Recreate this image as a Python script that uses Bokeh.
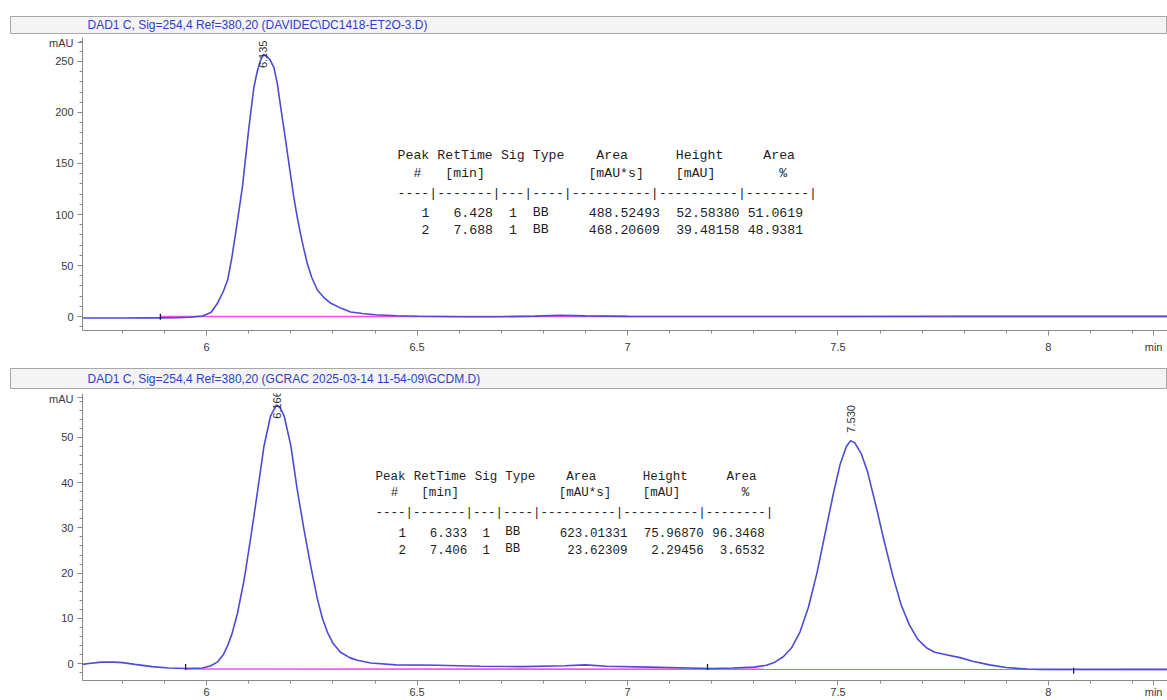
import numpy as np
from bokeh.plotting import figure
from bokeh.models import Range1d, FixedTicker, Label
from bokeh.layouts import column
from bokeh.embed import file_html
from bokeh.resources import INLINE

# ---------------- data ----------------
header_top = "DAD1 C, Sig=254,4 Ref=380,20 (DAVIDEC\\DC1418-ET2O-3.D)"
header_bot = "DAD1 C, Sig=254,4 Ref=380,20 (GCRAC 2025-03-14 11-54-09\\GCDM.D)"

time_top = [5.705, 5.75, 5.80, 5.85, 5.89, 5.93, 5.96, 5.99, 6.01, 6.025, 6.04, 6.05,
            6.06, 6.07, 6.085, 6.10, 6.112, 6.12, 6.128, 6.135, 6.14, 6.15, 6.16, 6.168,
            6.176, 6.184, 6.192, 6.20, 6.207, 6.215, 6.223, 6.231, 6.239, 6.25, 6.263,
            6.28, 6.295, 6.32, 6.342, 6.37, 6.40, 6.45, 6.50, 6.60, 6.70, 6.78, 6.84,
            6.90, 7.00, 7.20, 7.50, 7.80, 8.00, 8.283]
signal_top = [-1.4, -1.4, -1.4, -1.3, -1.3, -1.1, -0.7, 0.5, 4, 12.5, 25, 36,
              58, 85, 127, 184, 224, 240, 251, 257, 256, 252, 244, 228,
              205, 183, 160, 137, 117, 98, 81, 66, 52, 38, 26,
              18, 13, 8, 4.5, 3, 1.8, 0.8, 0.2, -0.2, -0.2, 0.4, 1.2,
              0.6, 0.1, 0.0, 0.0, 0.1, 0.1, 0.1]
baseline_top_time = [5.89, 8.283]
baseline_top_signal = [0.0, 0.0]
marks_top_time = [5.89]
marks_top_signal = [-0.3]
peak_top_time = [6.135]
peak_top_text = ["6.135"]

time_bot = [5.705, 5.72, 5.75, 5.78, 5.80, 5.83, 5.87, 5.91, 5.95, 5.99, 6.01, 6.025,
            6.04, 6.05, 6.06, 6.073, 6.089, 6.105, 6.12, 6.136, 6.152, 6.166, 6.175,
            6.184, 6.20, 6.215, 6.231, 6.247, 6.263, 6.275, 6.287, 6.30, 6.318, 6.34,
            6.358, 6.39, 6.45, 6.55, 6.65, 6.75, 6.85, 6.90, 6.95, 7.05, 7.15, 7.20,
            7.25, 7.30, 7.33, 7.35, 7.37, 7.39, 7.41, 7.43, 7.45, 7.47, 7.49, 7.505,
            7.52, 7.53, 7.54, 7.555, 7.57, 7.59, 7.61, 7.63, 7.65, 7.67, 7.69, 7.71,
            7.73, 7.76, 7.79, 7.82, 7.86, 7.90, 7.95, 7.98, 8.10, 8.283]
signal_bot = [-0.2, 0.0, 0.3, 0.3, 0.2, -0.2, -0.7, -1.0, -1.1, -1.0, -0.5, 0.3,
              2.0, 4.0, 6.5, 11, 18.5, 28, 37.5, 48, 54.8, 57.2, 56.5,
              54.8, 48.2, 38.6, 29.8, 21.7, 14.3, 10, 6.9, 4.5, 2.5, 1.3,
              0.7, 0.1, -0.3, -0.4, -0.6, -0.7, -0.5, -0.3, -0.6, -0.8, -1.0, -1.1,
              -1.0, -0.8, -0.4, 0.3, 1.5, 3.5, 7, 12.5, 20, 29, 38, 44,
              48, 49.3, 48.8, 46.5, 42.5, 35, 27, 19.5, 13, 8.5, 5.3, 3.5,
              2.5, 1.9, 1.3, 0.5, -0.3, -0.9, -1.2, -1.3, -1.3, -1.3]
baseline_bot_time = [5.95, 8.283]
baseline_bot_signal = [-1.2, -1.3]
marks_bot_time = [5.95, 7.19, 8.06]
marks_bot_signal = [-0.8, -0.8, -1.6]
peak_bot_time = [6.166, 7.530]
peak_bot_text = ["6.166", "7.530"]

x_ticks = [6, 6.5, 7, 7.5, 8, 8.25]
x_tick_labels = ["6", "6.5", "7", "7.5", "8", "min"]
y_ticks_top = [0, 50, 100, 150, 200, 250]
y_ticks_bot = [0, 10, 20, 30, 40, 50]
unit_label = "mAU"

table_head1 = ["Peak", "RetTime", "Sig", "Type", "Area", "Height", "Area"]
table_head2 = ["#", "[min]", "[mAU*s]", "[mAU]", "%"]
table_rule = "----|-------|---|----|----------|----------|--------|"

top_no = ["1", "2"]
top_ret = ["6.428", "7.688"]
top_sig = ["1", "1"]
top_type = ["BB", "BB"]
top_area = ["488.52493", "468.20609"]
top_height = ["52.58380", "39.48158"]
top_pct = ["51.0619", "48.9381"]

bot_no = ["1", "2"]
bot_ret = ["6.333", "7.406"]
bot_sig = ["1", "1"]
bot_type = ["BB", "BB"]
bot_area = ["623.01331", "23.62309"]
bot_height = ["75.96870", "2.29456"]
bot_pct = ["96.3468", "3.6532"]

# ---------------- styling ----------------
TRACE = "#4b4bd8"
BASE = "#f050f0"
AXIS = "#8a8a8a"
LABEL = "#3a3a3a"
FONT = "Liberation Sans"
MONO = "Liberation Mono"
W = 1167
X0, X1 = 5.705, 8.283

HEAD1_COLS = [0, 5, 13, 17, 25, 35, 46]
HEAD2_COLS = [2, 6, 24, 35, 48]


def header(text, h, top, bottom):
    p = figure(width=W, height=h, output_backend="svg", toolbar_location=None,
               x_range=Range1d(0, 1), y_range=Range1d(0, 1),
               x_axis_location=None, y_axis_location=None,
               min_border_left=10, min_border_right=0, min_border_top=top,
               min_border_bottom=bottom)
    free = "frame_align" in p.properties()
    if free:
        p.frame_align = False
    p.grid.visible = False
    p.background_fill_color = "#f4f4f4"
    p.border_fill_color = "white"
    p.outline_line_color = "#a8a8a8"
    p.add_layout(Label(x=77 if free else 5, y=(h - top - bottom) / 2,
                       x_units="screen", y_units="screen", text=text,
                       text_font=FONT, text_font_size="12px", text_color="#2f3fc8",
                       text_baseline="middle", text_align="left"))
    return p


def chart(h, y0, y1, top, bottom, y_major, y_minor, mau_at, xstand):
    p = figure(width=W, height=h, output_backend="svg", toolbar_location=None,
               x_range=Range1d(X0, X1), y_range=Range1d(y0, y1),
               min_border_left=82, min_border_right=0, min_border_top=top,
               min_border_bottom=bottom)
    p.grid.visible = False
    p.outline_line_color = None
    p.background_fill_color = "white"
    p.border_fill_color = "white"
    x_minor = [round(5.8 + 0.1 * i, 1) for i in range(25)]
    p.xaxis.ticker = FixedTicker(ticks=x_ticks, minor_ticks=x_minor)
    p.xaxis.major_label_overrides = dict(zip(x_ticks, x_tick_labels))
    p.yaxis.ticker = FixedTicker(ticks=y_major + [mau_at], minor_ticks=y_minor)
    p.yaxis.major_label_overrides = {mau_at: unit_label}
    for ax in (p.xaxis[0], p.yaxis[0]):
        ax.axis_line_color = AXIS
        ax.major_tick_line_color = AXIS
        ax.minor_tick_line_color = AXIS
        ax.major_tick_out = 5
        ax.major_tick_in = 0
        ax.minor_tick_out = 3
        ax.minor_tick_in = 0
        ax.major_label_text_font = FONT
        ax.major_label_text_font_size = "11px"
        ax.major_label_text_color = LABEL
    p.yaxis.major_label_standoff = 4
    p.xaxis.major_label_standoff = xstand
    return p


def table(p, x0, y0, row_offsets, cw, fs, nos, rets, sigs, types, areas, heights, pcts):
    style = dict(text_font=MONO, text_font_size=fs, text_color="#1e1e1e",
                 text_baseline="middle")
    for col, word in zip(HEAD1_COLS, table_head1):
        p.add_layout(Label(x=x0, y=y0, x_offset=col * cw, y_offset=-row_offsets[0],
                           text=word, text_align="left", **style))
    for col, word in zip(HEAD2_COLS, table_head2):
        p.add_layout(Label(x=x0, y=y0, x_offset=col * cw, y_offset=-row_offsets[1],
                           text=word, text_align="left", **style))
    p.add_layout(Label(x=x0, y=y0, x_offset=0, y_offset=-row_offsets[2],
                       text=table_rule, text_align="left", **style))
    for i in range(len(nos)):
        off = -row_offsets[3 + i]
        cells = [(4, nos[i], "right"), (12, rets[i], "right"), (15, sigs[i], "right"),
                 (17, types[i], "left"), (33, areas[i], "right"),
                 (43, heights[i], "right"), (51, pcts[i], "right")]
        for col, word, al in cells:
            p.add_layout(Label(x=x0, y=y0, x_offset=col * cw, y_offset=off,
                               text=word, text_align=al, **style))


def peak_label(p, t, yv, txt, centered):
    if centered:
        p.add_layout(Label(x=t, y=yv, text=txt, angle=np.pi / 2, text_align="center",
                           text_baseline="middle", text_font=FONT,
                           text_font_size="11px", text_color="#333333"))
    else:
        p.add_layout(Label(x=t, y=yv, y_offset=8, text=txt, angle=np.pi / 2,
                           text_align="left", text_baseline="middle", text_font=FONT,
                           text_font_size="11px", text_color="#333333"))


# ---------------- top panel ----------------
h1 = header(header_top, 36, 16, 3)
p1 = chart(326, -13.7, 273.5, 1, 32, y_ticks_top,
           [v for v in range(-10, 271, 10) if v % 50 != 0], 269, 5)
p1.line(baseline_top_time, baseline_top_signal, line_color=BASE, line_width=1.6)
p1.line(time_top, signal_top, line_color=TRACE, line_width=1.6)
p1.scatter(marks_top_time, marks_top_signal, marker="dash", angle=np.pi / 2, size=6,
           line_color="#1a1a50", line_width=1.3)
for t, txt in zip(peak_top_time, peak_top_text):
    peak_label(p1, t, float(np.interp(t, time_top, signal_top)), txt, True)
table(p1, 6.4537, 157.8, [0, 18, 38, 57, 74], 7.95, "13.2px",
      top_no, top_ret, top_sig, top_type, top_area, top_height, top_pct)

# ---------------- bottom panel ----------------
h2 = header(header_bot, 30, 6, 4)
p2 = chart(308, -3.76, 59.73, 1, 20, y_ticks_bot,
           [v for v in range(-2, 59, 2) if v % 10 != 0], 58.9, 0)
p2.line(baseline_bot_time, baseline_bot_signal, line_color=BASE, line_width=1.6)
p2.line(time_bot, signal_bot, line_color=TRACE, line_width=1.6)
p2.scatter(marks_bot_time, marks_bot_signal, marker="dash", angle=np.pi / 2, size=6,
           line_color="#1a1a50", line_width=1.3)
for t, txt, c in zip(peak_bot_time, peak_bot_text, [True, False]):
    peak_label(p2, t, float(np.interp(t, time_bot, signal_bot)), txt, c)
table(p2, 6.4014, 41.15, [0, 16, 36, 55, 72], 7.63, "12.5px",
      bot_no, bot_ret, bot_sig, bot_type, bot_area, bot_height, bot_pct)

layout = column(h1, p1, h2, p2, spacing=0)
open("out.html", "w").write(file_html(layout, INLINE))
